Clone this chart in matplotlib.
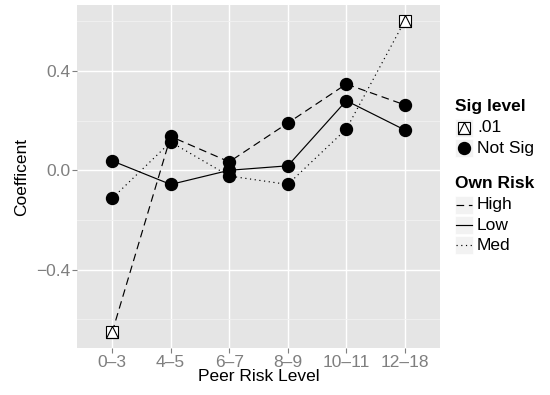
import matplotlib
matplotlib.use("Agg")
import matplotlib.pyplot as plt
from matplotlib.lines import Line2D
from matplotlib.patches import Rectangle
import numpy as np

categories = ["0\u20133", "4\u20135", "6\u20137", "8\u20139", "10\u201311", "12\u201318"]
high = [-0.652, 0.136, 0.034, 0.190, 0.347, 0.263]
low = [0.038, -0.057, 0.000, 0.018, 0.280, 0.162]
med = [-0.113, 0.114, -0.023, -0.057, 0.166, 0.602]
high_sig = [True, False, False, False, False, False]
low_sig = [False, False, False, False, False, False]
med_sig = [False, False, False, False, False, True]
yticks = [-0.4, 0.0, 0.4]
ytick_labels = ["\u22120.4", "0.0", "0.4"]

plt.rcParams['font.family'] = ['Liberation Sans', 'DejaVu Sans']

W, H = 550, 395
fig = plt.figure(figsize=(W / 100, H / 100), dpi=100)
L, R, T, B = 77, 440, 5, 348
ax = fig.add_axes([L / W, 1 - B / H, (R - L) / W, (B - T) / H])
ax.set_facecolor("#E5E5E5")
for s in ax.spines.values():
    s.set_visible(False)

x = np.arange(1, len(categories) + 1)
ax.set_xlim(0.4, len(categories) + 0.6)
ax.set_ylim(-0.715, 0.665)

ax.set_yticks(yticks)
ax.set_yticklabels(ytick_labels)
ax.set_yticks([-0.6, -0.2, 0.2, 0.6], minor=True)
ax.set_xticks(x)
ax.set_xticklabels(categories)
ax.grid(True, which="major", color="white", linewidth=1.0)
ax.grid(True, which="minor", axis="y", color="#F2F2F2", linewidth=0.6)
ax.set_axisbelow(True)
ax.tick_params(which="major", direction="out", length=3.5, width=0.8, color="#7F7F7F",
               labelcolor="#7F7F7F", labelsize=12.5, pad=1.5)
ax.tick_params(which="minor", length=0)

ax.set_xlabel("Peer Risk Level", fontsize=12.5, labelpad=-1)
ax.set_ylabel("Coefficent", fontsize=12.5, labelpad=5)

styles = {"High": (0, (6.5, 4.0)), "Low": "-", "Med": (0, (1.0, 3.0))}
series = [("High", high, high_sig), ("Low", low, low_sig), ("Med", med, med_sig)]
for name, vals, sig in series:
    ax.plot(x, vals, color="black", linewidth=0.85, linestyle=styles[name], zorder=3)
msize = 8.6
ssize = 9.0
for name, vals, sig in series:
    vals = np.array(vals)
    sig = np.array(sig)
    ns = ~sig
    ax.plot(x[ns], vals[ns], linestyle="none", marker="o", markersize=msize,
            markerfacecolor="black", markeredgecolor="black", zorder=4)
    if sig.any():
        ax.plot(x[sig], vals[sig], linestyle="none", marker="s", markersize=ssize,
                markerfacecolor="white", markeredgecolor="black", markeredgewidth=0.8, zorder=4)
        ax.plot(x[sig], vals[sig], linestyle="none", marker="^", markersize=ssize,
                markerfacecolor="none", markeredgecolor="black", markeredgewidth=0.8, zorder=5)

# legend drawn in pixel coords
def fx(px):
    return px / W

def fy(py):
    return 1 - py / H

key_w = 18
kx = 455
fs_leg = 12.5

def key_box(cy):
    fig.add_artist(Rectangle((fx(kx), fy(cy + key_w / 2)), key_w / W, key_w / H,
                             transform=fig.transFigure, facecolor="#F2F2F2",
                             edgecolor="white", linewidth=0.5))

fig.text(fx(kx), fy(107), "Sig level", fontsize=fs_leg, fontweight="bold", va="center", ha="left")
rows1 = [(128, ".01", "sig"), (148, "Not Sig", "ns")]
for cy, lab, kind in rows1:
    key_box(cy)
    cx = kx + key_w / 2
    if kind == "sig":
        fig.add_artist(Line2D([fx(cx)], [fy(cy)], transform=fig.transFigure, marker="s",
                              markersize=ssize * 0.95, markerfacecolor="white",
                              markeredgecolor="black", markeredgewidth=0.8, linestyle="none"))
        fig.add_artist(Line2D([fx(cx)], [fy(cy)], transform=fig.transFigure, marker="^",
                              markersize=ssize * 0.95, markerfacecolor="none",
                              markeredgecolor="black", markeredgewidth=0.8, linestyle="none"))
    else:
        fig.add_artist(Line2D([fx(cx)], [fy(cy)], transform=fig.transFigure, marker="o",
                              markersize=msize, markerfacecolor="black",
                              markeredgecolor="black", linestyle="none"))
    fig.text(fx(kx + key_w + 4), fy(cy), lab, fontsize=fs_leg, va="center", ha="left")

fig.text(fx(kx), fy(183), "Own Risk", fontsize=fs_leg, fontweight="bold", va="center", ha="left")
rows2 = [(205, "High"), (225, "Low"), (245, "Med")]
for cy, lab in rows2:
    key_box(cy)
    fig.add_artist(Line2D([fx(kx + 1), fx(kx + key_w - 1)], [fy(cy), fy(cy)],
                          transform=fig.transFigure, color="black", linewidth=0.85,
                          linestyle=styles[lab]))
    fig.text(fx(kx + key_w + 4), fy(cy), lab, fontsize=fs_leg, va="center", ha="left")

fig.savefig("out.png", dpi=100)
